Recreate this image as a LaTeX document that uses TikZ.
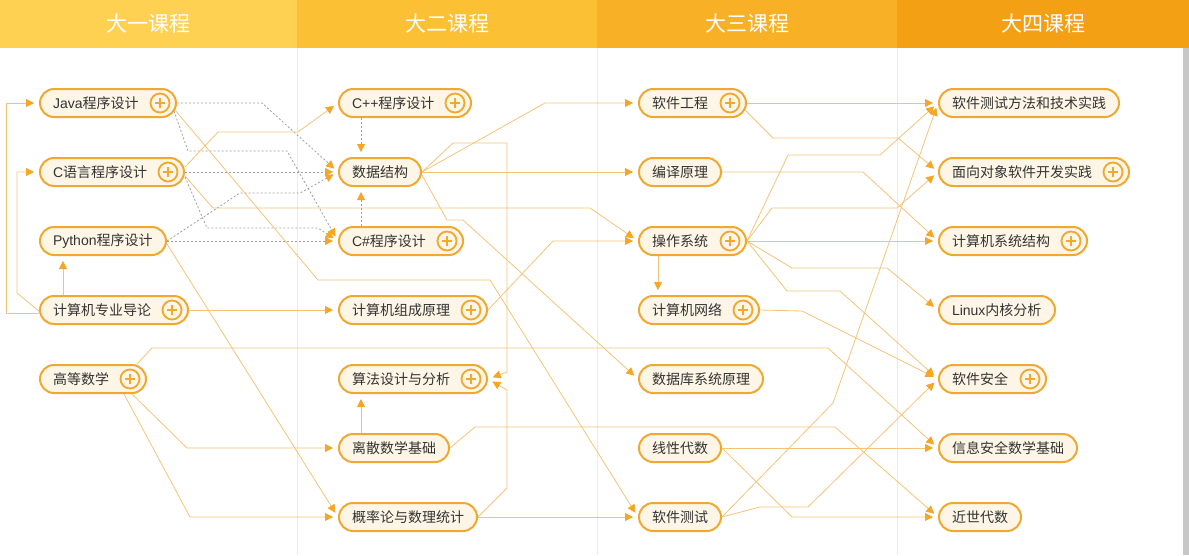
\documentclass[tikz,border=0pt]{standalone}
\usepackage{fontspec}
\setmainfont{Noto Sans CJK SC}
\newfontfamily\lat{Liberation Sans}
\usetikzlibrary{arrows.meta,calc,backgrounds}
\definecolor{hA}{HTML}{FFD152}
\definecolor{hB}{HTML}{FCC034}
\definecolor{hC}{HTML}{F8B026}
\definecolor{hD}{HTML}{F3A014}
\definecolor{bord}{HTML}{F0A830}
\definecolor{cream}{HTML}{FDF5E6}
\definecolor{linkc}{HTML}{F3C478}
\definecolor{tipc}{HTML}{F5A623}
\definecolor{dashc}{HTML}{A0A0A0}
\definecolor{txt}{HTML}{333333}
\definecolor{sepc}{HTML}{EFEAE4}
\begin{document}
\begin{tikzpicture}[x=1pt,y=-1pt,
  pill/.style={draw=bord, line width=2pt, fill=cream, rounded corners=14pt,
    minimum height=28pt, inner xsep=13pt, inner ysep=0pt, anchor=west,
    align=left, font=\fontsize{14}{16}\selectfont, text=txt},
  plus/.style={circle, draw=bord, line width=1.8pt, fill=cream, minimum size=19pt, inner sep=0pt,
    path picture={\draw[bord, line width=2.2pt]
      ([xshift=-5pt]path picture bounding box.center) -- ([xshift=5pt]path picture bounding box.center)
      ([yshift=-5pt]path picture bounding box.center) -- ([yshift=5pt]path picture bounding box.center);}},
  link/.style={draw=linkc, line width=0.8pt, -{Triangle[length=8pt,width=8pt,color=tipc]}, shorten >=5pt},
  dlink/.style={link, draw=dashc, dash pattern=on 2pt off 2pt},
  htext/.style={text=white, font=\fontsize{21}{24}\selectfont},
  sepline/.style={draw=sepc, line width=0.8pt}]
\useasboundingbox (0,0) rectangle (1189,555);
% column 1
\node[pill, text width=110pt] (java) at (39,103) {{\lat Java}程序设计};
\node[pill, text width=118pt] (c) at (39,172) {{\lat C}语言程序设计};
\node[pill, text width=100pt] (python) at (39,241) {{\lat Python}程序设计};
\node[pill, text width=122pt] (intro) at (39,310) {计算机专业导论};
\node[pill, text width=80pt] (math) at (39,379) {高等数学};
% column 2
\node[pill, text width=106pt] (cpp) at (338,103) {{\lat C++}程序设计};
\node[pill, text width=56pt] (ds) at (338,172) {数据结构};
\node[pill, text width=98pt] (cs) at (338,241) {{\lat C\#}程序设计};
\node[pill, text width=122pt] (co) at (338,310) {计算机组成原理};
\node[pill, text width=122pt] (algo) at (338,379) {算法设计与分析};
\node[pill, text width=84pt] (disc) at (338,448) {离散数学基础};
\node[pill, text width=112pt] (prob) at (338,517) {概率论与数理统计};
% column 3
\node[pill, text width=81pt] (se) at (638,103) {软件工程};
\node[pill, text width=56pt] (comp) at (638,172) {编译原理};
\node[pill, text width=81pt] (os) at (638,241) {操作系统};
\node[pill, text width=94pt] (net) at (638,310) {计算机网络};
\node[pill, text width=98pt] (db) at (638,379) {数据库系统原理};
\node[pill, text width=56pt] (la) at (638,448) {线性代数};
\node[pill, text width=56pt] (st) at (638,517) {软件测试};
% column 4
\node[pill, text width=154pt] (stm) at (938,103) {软件测试方法和技术实践};
\node[pill, text width=164pt] (oo) at (938,172) {面向对象软件开发实践};
\node[pill, text width=122pt] (arch) at (938,241) {计算机系统结构};
\node[pill, text width=90pt] (linux) at (938,310) {{\lat Linux}内核分析};
\node[pill, text width=81pt] (sec) at (938,379) {软件安全};
\node[pill, text width=112pt] (ism) at (938,448) {信息安全数学基础};
\node[pill, text width=56pt] (aa) at (938,517) {近世代数};
% plus marks
\foreach \n in {java,c,intro,math,cpp,cs,co,algo,se,os,net,oo,arch,sec}
  \node[plus] (\n-p) at ($(\n.east)+(-17,0)$) {};
\begin{scope}[on background layer]
\fill[white] (0,0) rectangle (1189,555);
% header
\fill[hA] (0,0) rectangle (297,48);
\fill[hB] (297,0) rectangle (597,48);
\fill[hC] (597,0) rectangle (897,48);
\fill[hD] (897,0) rectangle (1189,48);
\node[htext] (h1) at (148,24) {大一课程};
\node[htext] (h2) at (447,24) {大二课程};
\node[htext] (h3) at (747,24) {大三课程};
\node[htext] (h4) at (1043,24) {大四课程};
\draw[sepline] (297,48) -- (297,555);
\draw[sepline] (597,48) -- (597,555);
\draw[sepline] (897,48) -- (897,555);
\fill[black!22] (1183,48) rectangle (1189,555);
% column 1 loops
\draw[link] ($(intro.west)+(0,3)$) -- (6,313) -- (6,103) -- (java.west);
\draw[link] ($(intro.west)+(1,2)$) -- (17,293) -- (17,172) -- (c.west);
\draw[link] ($(intro.north west)+(24,0)$) -- ($(python.south west)+(24,0)$);
\draw[link] (intro.east) -- (co.west);
% dashed
\draw[dlink] (java.east) -- (262,103) -- (ds.west);
\draw[dlink] ($(java.east)+(-3,8)$) -- (188,151) -- (287,151) -- (cs.west);
\draw[dlink] (c.east) -- (ds.west);
\draw[dlink] ($(c.east)+(0,5)$) -- (207,228) -- (318,228) -- (cs.west);
\draw[dlink] (python.east) -- (240,193) -- (300,193) -- (ds.west);
\draw[dlink] (python.east) -- (cs.west);
% column 1 solids
\draw[link] ($(java.east)+(-2,7)$) -- (318,280) -- (490,280) -- (st.west);
\draw[link] ($(c.east)+(0,-5)$) -- (218,132) -- (298,132) -- (cpp.west);
\draw[link] ($(c.east)+(0,4)$) -- (213,208) -- (590,208) -- (os.west);
\draw[link] ($(python.east)+(0,3)$) -- (prob.west);
\draw[link] ($(math.south east)+(-15,0)$) -- (187,448) -- (disc.west);
\draw[link] ($(math.south east)+(-23,0)$) -- (190,517) -- (prob.west);
\draw[link] ($(math.north east)+(-10,0)$) -- (152,348) -- (828,348) -- (ism.west);
% column 2
\draw[dlink] ($(cpp.south west)+(23,0)$) -- ($(ds.north west)+(23,0)$);
\draw[dlink] ($(cs.north west)+(23,0)$) -- ($(ds.south west)+(23,0)$);
\draw[link] ($(disc.north west)+(23,0)$) -- ($(algo.south west)+(23,0)$);
\draw[link] (prob.east) -- (507,488) -- (507,390) -- (algo.east);
\draw[link] (ds.east) -- (453,143) -- (507,143) -- (507,372) -- (algo.east);
\draw[link] (ds.east) -- (545,103) -- (se.west);
\draw[link] (ds.east) -- (comp.west);
\draw[link] ($(ds.east)+(0,3)$) -- (447,220) -- (463,220) -- (db.west);
\draw[link] (co.east) -- (553,241) -- (os.west);
\draw[link] (disc.east) -- (475,427) -- (835,427) -- (aa.west);
\draw[link] (prob.east) -- (st.west);
% column 3
\draw[link] ($(os.south west)+(20,0)$) -- ($(net.north west)+(20,0)$);
\draw[link] (se.east) -- (stm.west);
\draw[link] ($(se.east)+(-2,7)$) -- (773,138) -- (898,138) -- (oo.west);
\draw[link] (os.east) -- (788,155) -- (880,155) -- (stm.west);
\draw[link] (os.east) -- (772,208) -- (897,208) -- (oo.west);
\draw[link] (comp.east) -- (863,172) -- (arch.west);
\draw[link] (os.east) -- (arch.west);
\draw[link] (os.east) -- (792,268) -- (887,268) -- (linux.west);
\draw[link] (os.east) -- (787,291) -- (840,291) -- (sec.west);
\draw[link] (net.east) -- (802,311) -- (sec.west);
\draw[link] (st.east) -- (833,403) -- (stm.west);
\draw[link] (st.east) -- (760,507) -- (808,507) -- (sec.west);
\draw[link] (la.east) -- (ism.west);
\draw[link] (la.east) -- (792,517) -- (aa.west);
\end{scope}
\end{tikzpicture}
\end{document}
